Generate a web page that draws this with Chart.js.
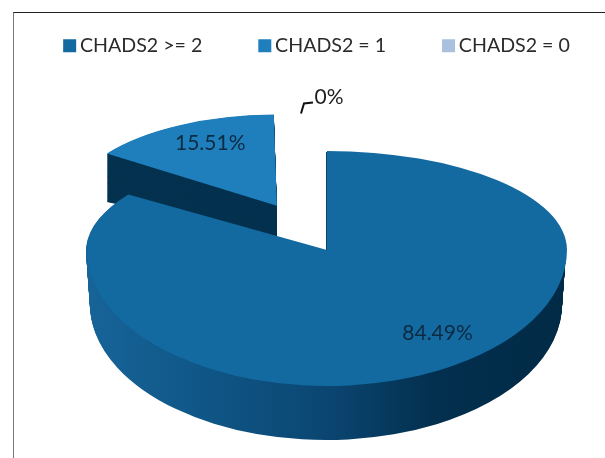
<!DOCTYPE html>
<html><head><meta charset="utf-8">
<script src="https://cdn.jsdelivr.net/npm/chart.js@4/dist/chart.umd.js"></script>
<style>
html,body{margin:0;padding:0;background:#fff;overflow:hidden}
#wrap{position:relative;width:605px;height:458px}
#frame{position:absolute;left:13px;top:12px;right:-5px;bottom:-5px;border-left:1px solid #777;border-top:1px solid #222}
canvas{position:absolute;left:0;top:0;filter:blur(0.4px)}
</style></head><body>
<div id="wrap"><div id="frame"></div><canvas id="c" width="605" height="458"></canvas></div>
<script>
const categories = ['CHADS2 >= 2', 'CHADS2 = 1', 'CHADS2 = 0'];
const values = [84.49, 15.51, 0];
const valueLabels = ['84.49%', '15.51%', '0%'];
const sliceColors = ['#126aa1', '#1f7fbd', '#a9c1dd'];
const explode = [0, 260, 0];
const FONT = 'Lato, "Open Sans", sans-serif';

const pie3d = {
  id: 'pie3d',
  beforeDatasetsDraw(chart) {
    const ctx = chart.ctx, arcs = chart.getDatasetMeta(0).data;
    const big = arcs[0], small = arcs[1], R = big.outerRadius;
    const ax = 327, ay = 250, rx = 240, up = 99, down = 136, depth = 54;

    function place(arc, o) {
      const sx = rx / R * (o.kx || 1), dx = o.dx || 0, dy = o.dy || 0;
      const saved = arc.options;
      if (o.fill) arc.options = Object.assign({}, saved, { backgroundColor: o.fill(sx) });
      [[up, 0, ay + dy], [down, ay + dy, 458]].forEach(([ry, y0, y1]) => {
        ctx.save();
        ctx.beginPath(); ctx.rect(0, y0, 605, y1 - y0); ctx.clip();
        ctx.translate(ax + dx, ay + dy);
        if (o.shear) ctx.transform(1, o.shear, 0, 1, 0, 0);
        ctx.scale(sx, ry / R * (o.ky || 1));
        ctx.translate(-arc.x, -arc.y);
        arc.draw(ctx);
        ctx.restore();
      });
      arc.options = saved;
    }

    // exploded slice: wall first, then its face
    const smallBase = { kx: 0.785, ky: 0.836, dx: 2, dy: -1 };
    const wallSmall = () => '#04324f';
    for (let i = 36; i >= 0.5; i -= 0.5) {
      place(small, Object.assign({}, smallBase, {
        dy: smallBase.dy + i * 0.75,
        shear: -i * 0.0027,
        fill: wallSmall
      }));
    }
    place(small, smallBase);

    // main slice: shaded rim, then its face
    const rim = sx => {
      const g = ctx.createLinearGradient(big.x - 241 / sx, 0, big.x + 241 / sx, 0);
      g.addColorStop(0, '#176499');
      g.addColorStop(0.25, '#0f5686');
      g.addColorStop(0.5, '#0b4672');
      g.addColorStop(0.72, '#03304f');
      g.addColorStop(1, '#012a45');
      return g;
    };
    for (let i = depth; i >= 1; i--) {
      place(big, { kx: 1 - i * 0.0003, dx: -1, dy: i, fill: rim });
    }
    place(big, {});

    // value labels, anchored to each slice's mid angle
    const mid = a => (a.startAngle + a.endAngle) / 2;
    ctx.save();
    ctx.font = '21px ' + FONT;
    ctx.fillStyle = '#0d2a40';
    ctx.textAlign = 'center';
    ctx.textBaseline = 'middle';
    const bm = mid(big), sm = mid(small);
    ctx.fillText(valueLabels[0], ax + Math.cos(bm) * rx * 0.77 + 24, ay + Math.sin(bm) * down * 0.77 - 9);
    ctx.fillText(valueLabels[1], ax + Math.cos(sm) * rx * 1.03 - 1, ay + Math.sin(sm) * up * 1.22);
    // zero slice sits at the top of the pie with a leader line
    const zx = ax + 2, zy = ay - up * 1.54;
    ctx.fillStyle = '#1d1d1d';
    ctx.fillText(valueLabels[2], zx, zy);
    ctx.strokeStyle = '#111'; ctx.lineWidth = 2;
    ctx.beginPath();
    ctx.moveTo(zx - 28, zy + 16);
    ctx.lineTo(zx - 25, zy + 6);
    ctx.lineTo(zx - 16, zy + 5);
    ctx.stroke();
    ctx.restore();
    return false;
  }
};

new Chart(document.getElementById('c'), {
  type: 'pie',
  plugins: [pie3d],
  data: {
    labels: categories,
    datasets: [{ data: values, backgroundColor: sliceColors, borderWidth: 0, offset: explode, radius: 110 }]
  },
  options: {
    responsive: false,
    animation: false,
    radius: 110,
    layout: { padding: { top: -26, left: 0, right: -34 } },
    plugins: {
      tooltip: { enabled: false },
      legend: {
        position: 'top',
        labels: {
          boxWidth: 1, boxHeight: 1, padding: 62, color: '#2a2a2a',
          font: { family: FONT, size: 19.6 },
          generateLabels(chart) {
            return Chart.overrides.pie.plugins.legend.labels.generateLabels(chart).map(l =>
              Object.assign(l, { strokeStyle: l.fillStyle, lineWidth: 12, lineJoin: 'miter' }));
          }
        }
      }
    }
  }
});
</script>
</body></html>
